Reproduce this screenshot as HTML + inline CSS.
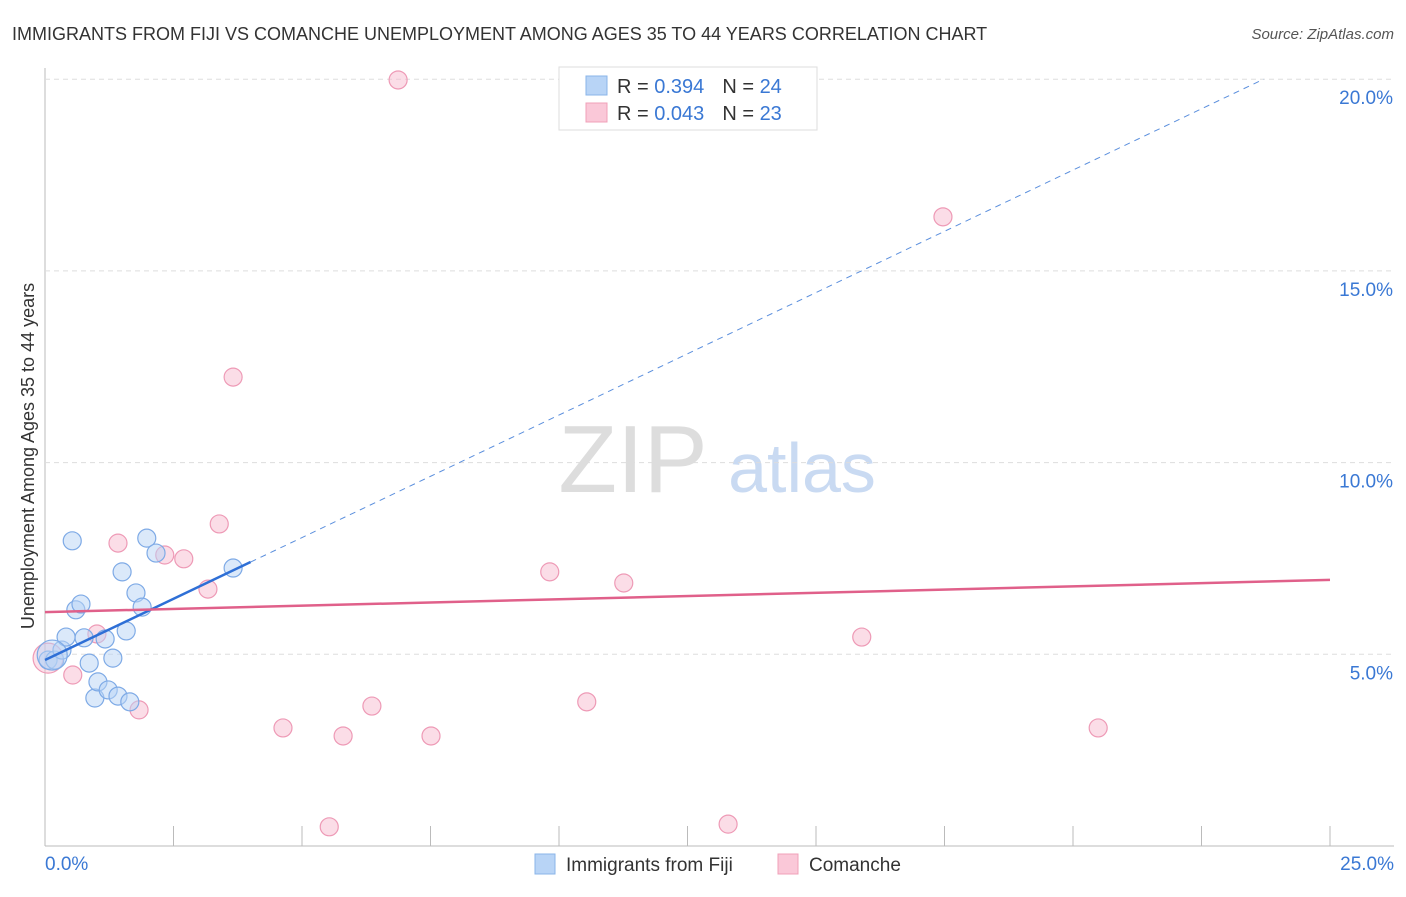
<!DOCTYPE html>
<html><head><meta charset="utf-8"><style>
body{margin:0;background:#fff;font-family:"Liberation Sans",sans-serif}
svg text{font-family:"Liberation Sans",sans-serif}
</style></head><body>
<svg id="c" width="1406" height="892">
<text x="12" y="40" font-size="18" fill="#333">IMMIGRANTS FROM FIJI VS COMANCHE UNEMPLOYMENT AMONG AGES 35 TO 44 YEARS CORRELATION CHART</text>
<text x="1394" y="39" font-size="15" fill="#555" text-anchor="end" font-style="italic">Source: ZipAtlas.com</text>
<text x="633" y="492" font-size="96" fill="#ddd" font-family="Liberation Serif" text-anchor="middle">ZIP</text>
<text x="802" y="492" font-size="70" fill="#c9daf2" text-anchor="middle">atlas</text>
<text transform="translate(34,456) rotate(-90)" font-size="18" fill="#333" text-anchor="middle">Unemployment Among Ages 35 to 44 years</text>
<g id="grid"></g><g id="pts"></g><g id="lines"></g>
<g>
<rect x="559" y="67" width="258" height="63" fill="#fff" stroke="#ddd"/>
<rect x="586" y="76" width="21" height="19" fill="#b8d4f6" stroke="#8ab4e8"/>
<rect x="586" y="103" width="21" height="19" fill="#fac8d8" stroke="#f0a0b8"/>
<text x="617" y="93" font-size="20" fill="#333">R = <tspan fill="#3a78d4">0.394</tspan><tspan dx="18">N = </tspan><tspan fill="#3a78d4">24</tspan></text>
<text x="617" y="120" font-size="20" fill="#333">R = <tspan fill="#3a78d4">0.043</tspan><tspan dx="18">N = </tspan><tspan fill="#3a78d4">23</tspan></text>
</g>
<g>
<rect x="535" y="854" width="20" height="20" fill="#b8d4f6" stroke="#8ab4e8"/>
<text x="566" y="871" font-size="19" fill="#333">Immigrants from Fiji</text>
<rect x="778" y="854" width="20" height="20" fill="#fac8d8" stroke="#f0a0b8"/>
<text x="809" y="871" font-size="19" fill="#333">Comanche</text>
</g>
</svg>
<script>
const fijiX=[0.06,0.19,0.33,0.41,0.53,0.60,0.70,0.76,0.86,0.97,1.03,1.17,1.23,1.32,1.42,1.50,1.58,1.65,1.77,1.89,1.98,2.16,3.66,0.14];
const fijiY=[4.85,4.85,5.11,5.45,7.96,6.16,6.31,5.43,4.77,3.86,4.28,5.40,4.07,4.90,3.91,7.15,5.61,3.76,6.60,6.23,8.03,7.64,7.25,4.98];
const comX=[0.06,0.54,1.01,1.42,1.83,2.33,2.70,3.17,3.39,3.66,4.63,5.80,6.36,6.87,7.51,9.82,10.54,11.26,13.29,5.53,15.89,17.47,20.49];
const comY=[4.90,4.46,5.53,7.90,3.55,7.59,7.49,6.70,8.40,12.23,3.08,2.87,3.65,19.98,2.87,7.15,3.76,6.86,0.57,0.50,5.45,16.41,3.08];
const yTicks=[5,10,15,20];
const xTicks=[0,2.5,5,7.5,10,12.5,15,17.5,20,22.5,25];
const fijiTrend=[4.85,0.639];
const comTrend=[6.10,0.0336];
const X=v=>45+v/25*1285, Y=v=>846-v*38.34;
const NS='http://www.w3.org/2000/svg';
function mk(t,a,p){const e=document.createElementNS(NS,t);for(const k in a)e.setAttribute(k,a[k]);p.appendChild(e);return e;}
const g=document.getElementById('grid'),pts=document.getElementById('pts'),ln=document.getElementById('lines');
const ax=mk('line',{x1:45,y1:68,x2:45,y2:846,stroke:'#bbb'},g);

const bx=mk('line',{x1:45,y1:846,x2:1394,y2:846,stroke:'#bbb'},g);

yTicks.forEach(v=>{
 const l=mk('line',{x1:45,x2:1394,y1:Y(v),y2:Y(v),stroke:'#ddd','stroke-dasharray':'5,4'},g);
 
 const t=mk('text',{x:1393,y:Y(v)+25,'font-size':19,fill:'#3a78d4','text-anchor':'end'},g);t.textContent=v.toFixed(1)+'%';
 
});
xTicks.forEach(v=>{
 const l=mk('line',{x1:X(v),x2:X(v),y1:826,y2:846,stroke:'#bbb'},g);
 
});
[[0,'0.0%','start',45],[25,'25.0%','end',1394]].forEach(a=>{
 const t=mk('text',{x:a[3],y:870,'font-size':19,fill:'#3a78d4','text-anchor':a[2]},g);t.textContent=a[1];
 
});
function dots(xs,ys,fill,stroke,name){xs.forEach((x,i)=>{
 const big=(i===0&&name==='comanche-point')||(i===23&&name==='fiji-point');
 const c=mk('circle',{cx:X(x),cy:Y(ys[i]),r:big?15:9,fill:fill,'fill-opacity':big?0.45:0.5,stroke:stroke,'stroke-width':1.2},pts);
 
});}
dots(comX,comY,'#f8bcd0','#ee9ab6','comanche-point');
dots(fijiX,fijiY,'#b8d4f6','#7eaae6','fiji-point');
const s=mk('line',{x1:X(0),y1:Y(fijiTrend[0]),x2:X(4),y2:Y(fijiTrend[0]+4*fijiTrend[1]),stroke:'#2e6fd6','stroke-width':2.5},ln);

const xe=(20-fijiTrend[0])/fijiTrend[1];
const d=mk('line',{x1:X(4),y1:Y(fijiTrend[0]+4*fijiTrend[1]),x2:X(xe),y2:Y(20),stroke:'#5b8fdd','stroke-width':1,'stroke-dasharray':'6,5'},ln);

const p=mk('line',{x1:X(0),y1:Y(comTrend[0]),x2:X(25),y2:Y(comTrend[0]+25*comTrend[1]),stroke:'#e0608a','stroke-width':2.5},ln);

</script>
</body></html>
